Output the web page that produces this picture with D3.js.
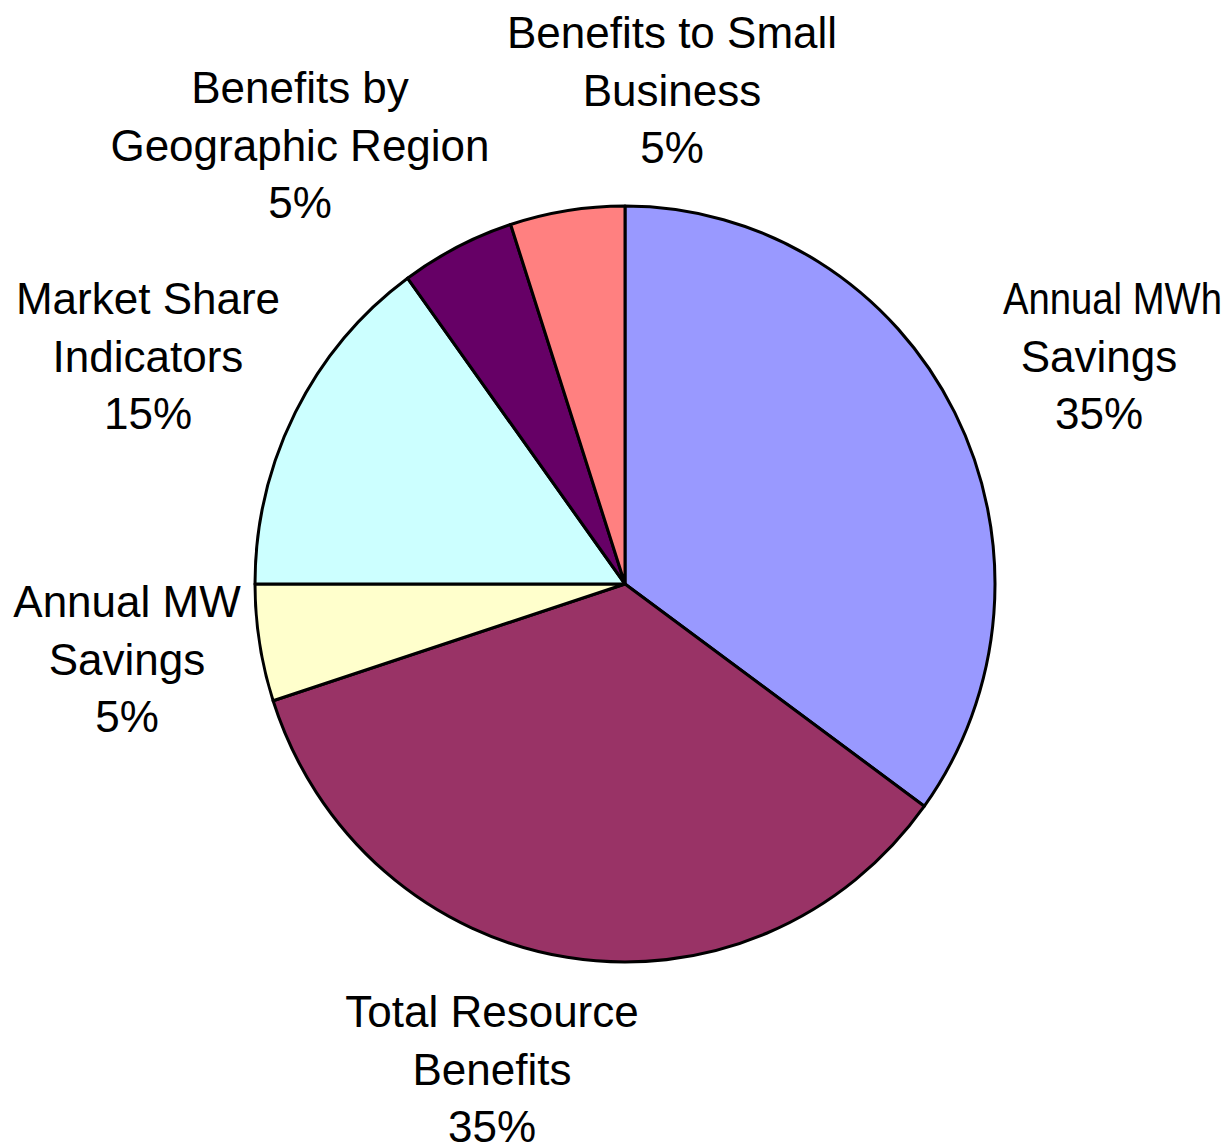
<!DOCTYPE html>
<html>
<head>
<meta charset="utf-8">
<script src="https://cdn.jsdelivr.net/npm/d3@7"></script>
<style>
  html, body { margin: 0; padding: 0; background: #fff; overflow: hidden; }
  svg { display: block; }
</style>
</head>
<body>
<svg id="chart" width="1228" height="1145"></svg>
<script>
// ---- data ----
const categories = [
  "Annual MWh Savings",
  "Total Resource Benefits",
  "Annual MW Savings",
  "Market Share Indicators",
  "Benefits by Geographic Region",
  "Benefits to Small Business"
];
const values = [35, 35, 5, 15, 5, 5];
const labelLines = [
  ["Annual MWh", "Savings"],
  ["Total Resource", "Benefits"],
  ["Annual MW", "Savings"],
  ["Market Share", "Indicators"],
  ["Benefits by", "Geographic Region"],
  ["Benefits to Small", "Business"]
];
const colors = ["#9999FF", "#993366", "#FFFFCC", "#CCFFFF", "#660066", "#FF8080"];

// ---- layout ----
const W = 1228, H = 1145;
const cx = 625, cy = 584, rx = 370, ry = 378;
const labelAnchor = [
  [1099, 314], [492, 1027], [127, 617], [148, 314], [300, 103], [672, 48]
];
const lineH = 57.5;

const svg = d3.select("#chart");
const pie = d3.pie().sort(null).value(d => d)(values);
const arc = d3.arc().innerRadius(0).outerRadius(rx);

const g = svg.append("g")
  .attr("transform", `translate(${cx},${cy}) scale(1,${ry / rx})`);

g.selectAll("path")
  .data(pie)
  .join("path")
  .attr("d", arc)
  .attr("fill", (d, i) => colors[i])
  .attr("stroke", "#000")
  .attr("stroke-width", 3)
  .attr("stroke-linejoin", "round");

const total = d3.sum(values);
const fmt = v => Math.round(v / total * 100) + "%";

const labels = svg.append("g")
  .attr("font-family", "'Liberation Sans', Arial, sans-serif")
  .attr("font-size", 44)
  .attr("fill", "#000")
  .attr("text-anchor", "middle");

categories.forEach((c, i) => {
  const lines = labelLines[i].concat([fmt(values[i])]);
  const t = labels.append("text")
    .attr("x", labelAnchor[i][0])
    .attr("y", labelAnchor[i][1]);
  lines.forEach((ln, j) => {
    const ts = t.append("tspan")
      .attr("x", labelAnchor[i][0])
      .attr("y", labelAnchor[i][1] + j * lineH)
      .text(ln);
    // the first line of the right-hand label is squeezed to fit the frame edge
    if (i === 0 && j === 0) {
      ts.attr("x", 1112.5)
        .attr("textLength", 219)
        .attr("lengthAdjust", "spacingAndGlyphs");
    }
  });
});
</script>
</body>
</html>
